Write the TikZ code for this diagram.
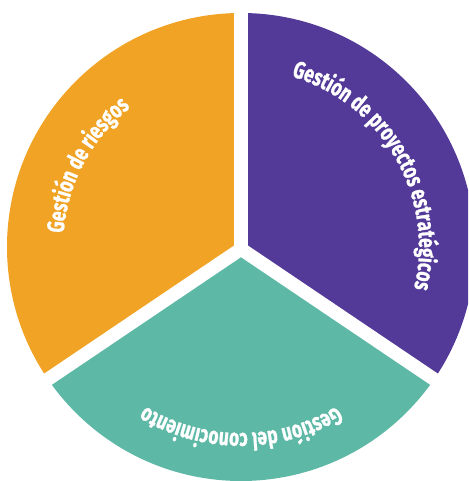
\documentclass[tikz,border=0pt]{standalone}
\usepackage{fontspec}
\newfontfamily\labfont[FakeStretch=0.72,FakeBold=1]{Fira Sans}
\newcommand\labstyle{\labfont\bfseries\fontsize{24}{24}\selectfont}
\usetikzlibrary{decorations.text}
\definecolor{cOrange}{HTML}{F0A324}
\definecolor{cPurple}{HTML}{533A99}
\definecolor{cTeal}{HTML}{5DB8A6}
\begin{document}
\begin{tikzpicture}[x=1pt,y=1pt,
  gap/.style={white, line width=13.5pt, line cap=round},
  lbl/.style={decorate, decoration={text along path, text align=center, text color=white, text format delimiters={|}{|}}}]
\useasboundingbox (0,0) rectangle (468,481);
\clip (0,0) rectangle (468,481);
\coordinate (C) at (241,234);
\coordinate (J) at (241,232);
% orange sector
\begin{scope}
  \clip (J) -- ([shift={(90:500)}]J) -- ([shift={(152:500)}]J) -- ([shift={(214:500)}]J) -- cycle;
  \fill[cOrange] (C) circle[radius=234];
\end{scope}
% purple sector
\begin{scope}
  \clip (J) -- ([shift={(90:500)}]J) -- ([shift={(28:500)}]J) -- ([shift={(-34:500)}]J) -- cycle;
  \fill[cPurple] (C) circle[radius=234];
\end{scope}
% teal sector
\begin{scope}
  \clip (J) -- ([shift={(214:500)}]J) -- ([shift={(270:500)}]J) -- ([shift={(-34:500)}]J) -- cycle;
  \fill[cTeal] (C) circle[radius=234];
\end{scope}
% white gaps
\coordinate (gUp) at ([shift={(90:300)}]J);
\coordinate (gLeft) at ([shift={(214:300)}]J);
\coordinate (gRight) at ([shift={(-34:300)}]J);
\draw[gap] (J) -- (gUp);
\draw[gap] (J) -- (gLeft);
\draw[gap] (J) -- (gRight);
% labels
\path[lbl, decoration={text={|\labstyle|Gestión de riesgos}}]
  ([shift={(210:178)}]C) arc[start angle=210, end angle=94, radius=178];
\path[lbl, decoration={text={|\labstyle|Gestión de proyectos estratégicos}}]
  ([shift={(100:178)}]C) arc[start angle=100, end angle=-40, radius=178];
\path[lbl, decoration={text={|\labstyle|Gestión del conocimiento}}]
  ([shift={(-20:186)}]C) arc[start angle=-20, end angle=-160, radius=186];
\end{tikzpicture}
\end{document}
